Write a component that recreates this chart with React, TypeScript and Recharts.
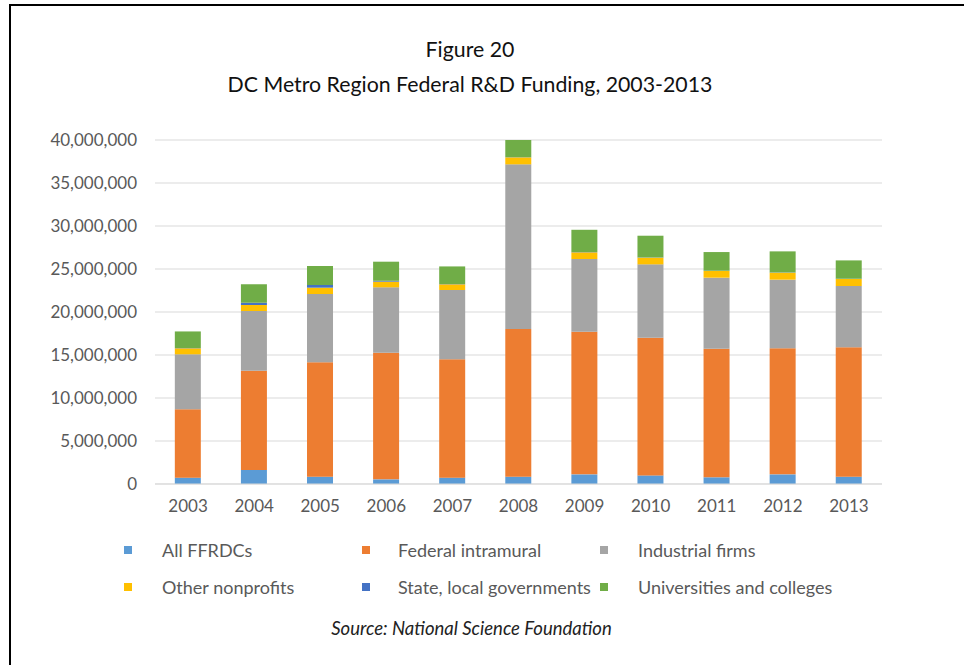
import { Bar, BarChart, CartesianGrid, XAxis, YAxis } from "recharts";

const years = ["2003", "2004", "2005", "2006", "2007", "2008", "2009", "2010", "2011", "2012", "2013"];

const ffrdcs = [740000, 1630000, 850000, 540000, 740000, 850000, 1120000, 1000000, 780000, 1120000, 850000];
const federalIntramural = [7940000, 11550000, 13300000, 14730000, 13760000, 17170000, 16590000, 16020000, 14960000, 14660000, 15040000];
const industrialFirms = [6400000, 6940000, 7940000, 7600000, 8060000, 19150000, 8450000, 8520000, 8250000, 7980000, 7130000];
const otherNonprofits = [700000, 700000, 740000, 660000, 660000, 810000, 780000, 780000, 780000, 810000, 820000];
const stateLocal = [30000, 270000, 310000, 100000, 30000, 20000, 30000, 30000, 30000, 30000, 30000];
const universities = [1930000, 2130000, 2210000, 2220000, 2050000, 2000000, 2590000, 2520000, 2170000, 2450000, 2130000];

const yTicks = [0, 5000000, 10000000, 15000000, 20000000, 25000000, 30000000, 35000000, 40000000];

const series = [
  { key: "ffrdcs", name: "All FFRDCs", color: "#5B9BD5" },
  { key: "federal", name: "Federal intramural", color: "#ED7D31" },
  { key: "industrial", name: "Industrial firms", color: "#A5A5A5" },
  { key: "nonprofits", name: "Other nonprofits", color: "#FFC000" },
  { key: "state", name: "State, local governments", color: "#4472C4" },
  { key: "universities", name: "Universities and colleges", color: "#70AD47" },
];

const data = years.map((year, i) => ({
  year,
  ffrdcs: ffrdcs[i],
  federal: federalIntramural[i],
  industrial: industrialFirms[i],
  nonprofits: otherNonprofits[i],
  state: stateLocal[i],
  universities: universities[i],
}));

const font = "Lato, 'Open Sans', sans-serif";
const textGray = "#595959";

export default function App() {
  return (
    <div
      style={{
        position: "absolute",
        left: 0,
        top: 0,
        width: 964,
        height: 665,
        overflow: "hidden",
        background: "#fff",
        fontFamily: font,
      }}
    >
      <div
        style={{
          position: "absolute",
          left: 9,
          top: 4,
          width: 1000,
          height: 700,
          borderTop: "2px solid #000",
          borderLeft: "2px solid #000",
        }}
      />
      <div
        style={{
          position: "absolute",
          left: 0,
          width: 940,
          top: 32,
          textAlign: "center",
          fontSize: 21.3,
          lineHeight: "35px",
          color: "#111",
        }}
      >
        <div>Figure 20</div>
        <div>DC Metro Region Federal R&amp;D Funding, 2003-2013</div>
      </div>

      <div style={{ position: "absolute", left: 0, top: 0 }}>
        <BarChart
          width={964}
          height={665}
          data={data}
          margin={{ top: 140, right: 82, bottom: 151, left: 0 }}
          barCategoryGap="30%"
        >
          <CartesianGrid stroke="#d9d9d9" vertical={false} />
          <XAxis
            dataKey="year"
            height={30}
            axisLine={{ stroke: "#d9d9d9" }}
            tickLine={false}
            tickMargin={10}
            tick={{ fill: textGray, fontSize: 17, fontFamily: font }}
          />
          <YAxis
            width={155}
            domain={[0, 40000000]}
            ticks={yTicks}
            axisLine={false}
            tickLine={false}
            tickMargin={12}
            tickFormatter={(value: number) => value.toLocaleString("en-US")}
            tick={{ fill: textGray, fontSize: 17, fontFamily: font }}
          />
          {series.map((s) => (
            <Bar
              key={s.key}
              dataKey={s.key}
              name={s.name}
              stackId="funding"
              fill={s.color}
              isAnimationActive={false}
            />
          ))}
        </BarChart>
      </div>

      {series.map((s, i) => {
        const col = i % 3;
        const row = Math.floor(i / 3);
        const squareX = [124, 362, 600][col];
        const labelX = [162, 398, 638][col];
        const y = [550, 587][row];
        return (
          <div key={s.key}>
            <div
              style={{
                position: "absolute",
                left: squareX,
                top: y - 4,
                width: 8,
                height: 8,
                background: s.color,
              }}
            />
            <div
              style={{
                position: "absolute",
                left: labelX,
                top: y - 12,
                lineHeight: "24px",
                fontSize: 18,
                color: textGray,
                whiteSpace: "nowrap",
              }}
            >
              {s.name}
            </div>
          </div>
        );
      })}

      <div
        style={{
          position: "absolute",
          left: 0,
          width: 943,
          top: 616,
          textAlign: "center",
          fontSize: 18.5,
          lineHeight: "24px",
          fontStyle: "italic",
          color: "#222",
        }}
      >
        Source: National Science Foundation
      </div>
    </div>
  );
}
